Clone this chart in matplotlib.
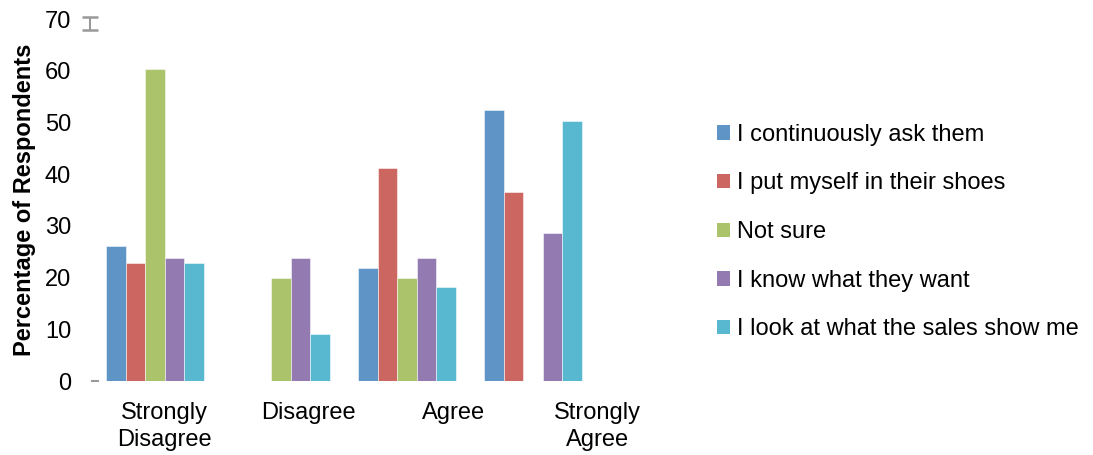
import matplotlib
matplotlib.use("Agg")
import matplotlib.pyplot as plt
from matplotlib.patches import Patch
import numpy as np

plt.rcParams["font.family"] = ["Liberation Sans", "DejaVu Sans"]

categories = ["Strongly\nDisagree", "Disagree", "Agree", "Strongly\nAgree"]
series_names = [
    "I continuously ask them",
    "I put myself in their shoes",
    "Not sure",
    "I know what they want",
    "I look at what the sales show me",
]
ask_them = [26.2, 0, 21.8, 52.4]
their_shoes = [22.8, 0, 41.1, 36.5]
not_sure = [60.3, 20.0, 20.0, 0]
know_want = [23.8, 23.8, 23.8, 28.7]
sales_show = [22.8, 9.0, 18.2, 50.3]
y_ticks = [0, 10, 20, 30, 40, 50, 60, 70]

series = [ask_them, their_shoes, not_sure, know_want, sales_show]
colors = ["#5f95c6", "#cc6660", "#abc46c", "#937bb2", "#57b8d0"]
fs = 17

fig = plt.figure(figsize=(10.93, 4.55), dpi=100)
ax = fig.add_axes([0.0842, 0.1626, 0.5288, 0.7956])

x = np.arange(len(categories))
bar_w = 0.155
for k, (vals, col) in enumerate(zip(series, colors)):
    offs = (k - 2) * bar_w
    ax.bar(x + offs, vals, width=bar_w, color=col,
           edgecolor=(1, 1, 1, 0.6), linewidth=0.6, zorder=2)

# category labels are spread across the full axis width
span = 1.1468
ax.set_xlim(-0.5, -0.5 + span * len(categories))
ax.set_xticks(-0.5 + span * (x + 0.5))
ax.set_xticklabels(categories, fontsize=fs, linespacing=1.3)
ax.tick_params(axis="x", length=0, pad=15)

ax.set_ylim(0, 70)
ax.set_yticks(y_ticks)
ax.set_yticklabels([str(t) for t in y_ticks], fontsize=fs)
ax.tick_params(axis="y", length=0, pad=15)
ax.set_ylabel("Percentage of Respondents", fontsize=fs, fontweight="bold", labelpad=6)

for s in ax.spines.values():
    s.set_visible(False)

# small grey marks at the ends of the value axis
ax.plot([-0.48], [0], marker="_", markersize=6, color="#999999",
        markeredgewidth=1.5, clip_on=False)
ax.errorbar([-0.52], [69.2], yerr=[[1.3], [1.2]], fmt="none", ecolor="#999999",
            elinewidth=1.5, capsize=6, capthick=1.8, clip_on=False)

handles = [Patch(facecolor=c, edgecolor="none") for c in colors]
fig.legend(handles, series_names, loc="upper left",
           bbox_to_anchor=(0.656, 0.728), frameon=False, fontsize=fs,
           handlelength=0.55, handleheight=0.55, handletextpad=0.3,
           labelspacing=1.13, borderpad=0, borderaxespad=0)

fig.savefig("out.png", dpi=100)
